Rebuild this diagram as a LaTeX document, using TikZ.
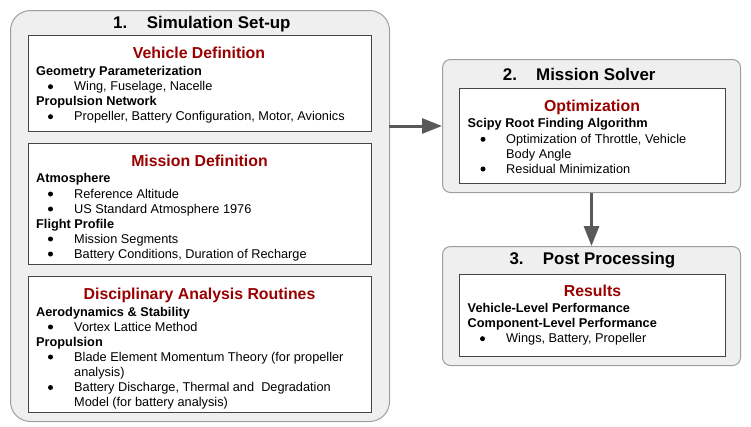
\documentclass[tikz,border=0pt]{standalone}
\usepackage{fontspec}
\setmainfont{Liberation Sans}
\usetikzlibrary{arrows.meta}
\definecolor{outerfill}{HTML}{EFEFEF}
\definecolor{outerdraw}{HTML}{9E9E9E}
\definecolor{innerdraw}{HTML}{444444}
\definecolor{headred}{HTML}{990000}
\definecolor{arrgray}{HTML}{595959}
\tikzset{
  outerbox/.style={draw=outerdraw, fill=outerfill, line width=1pt, anchor=north west, inner sep=0pt},
  innerbox/.style={draw=innerdraw, fill=white, line width=1pt, anchor=north west, inner sep=0pt},
  txt/.style={anchor=base west, inner sep=0pt, font=\fontsize{12.75}{15}\selectfont},
  lbl/.style={txt, font=\fontsize{12.75}{15}\selectfont\bfseries},
  headtxt/.style={anchor=base, inner sep=0pt, text=headred, font=\fontsize{15.85}{18}\selectfont\bfseries},
  ttl/.style={anchor=base west, inner sep=0pt, font=\fontsize{16.9}{19}\selectfont\bfseries},
  dot/.style={circle, fill=black, inner sep=0pt, minimum size=5pt},
  arr/.style={draw=arrgray, line width=3pt, -{Triangle[length=20pt,width=15pt]}, arrgray}
}
\begin{document}
\begin{tikzpicture}[x=1pt,y=-1pt]
\useasboundingbox (0,0) rectangle (751,426);
% outer boxes
\node[outerbox, rounded corners=20pt, minimum width=379pt, minimum height=411pt] (b1) at (10,10) {};
\node[outerbox, rounded corners=8pt, minimum width=298pt, minimum height=133pt] (b2) at (442,59) {};
\node[outerbox, rounded corners=8pt, minimum width=298pt, minimum height=119pt] (b3) at (442,246) {};
% inner boxes
\node[innerbox, minimum width=343pt, minimum height=96pt] (v) at (28,35) {};
\node[innerbox, minimum width=343pt, minimum height=121pt] (m) at (28,143) {};
\node[innerbox, minimum width=343pt, minimum height=136pt] (d) at (28,276) {};
\node[innerbox, minimum width=266pt, minimum height=95pt] (o) at (459,88) {};
\node[innerbox, minimum width=266pt, minimum height=82pt] (r) at (459,274) {};
% titles
\node[ttl] (t1n) at (113,28.3) {1.};
\node[ttl] (t1) at (146.7,28.3) {Simulation Set-up};
\node[ttl] (t2n) at (502.7,80) {2.};
\node[ttl] (t2) at (536,80) {Mission Solver};
\node[ttl] (t3n) at (509.3,264) {3.};
\node[ttl] (t3) at (542.7,264) {Post Processing};
% headings
\node[headtxt] (hv) at (199,58.3) {Vehicle Definition};
\node[headtxt] (hm) at (199.5,166) {Mission Definition};
\node[headtxt] (hd) at (199.5,299.3) {Disciplinary Analysis Routines};
\node[headtxt] (ho) at (592,111.7) {Optimization};
\node[headtxt] (hr) at (592.5,296.7) {Results};
% vehicle definition
\node[lbl] (v1) at (36,75.3) {Geometry Parameterization};
\node[dot] (vd1) at (50.5,86.7) {};
\node[txt] (v2) at (74,90.7) {Wing, Fuselage, Nacelle};
\node[lbl] (v3) at (36,105.3) {Propulsion Network};
\node[dot] (vd2) at (50.5,116.7) {};
\node[txt] (v4) at (74,120.7) {Propeller, Battery Configuration, Motor, Avionics};
% mission definition
\node[lbl] (m1) at (36,182.3) {Atmosphere};
\node[dot] (md1) at (50.5,194) {};
\node[txt] (m2) at (74,198) {Reference Altitude};
\node[dot] (md2) at (50.5,209) {};
\node[txt] (m3) at (74,213) {US Standard Atmosphere 1976};
\node[lbl] (m4) at (36,228) {Flight Profile};
\node[dot] (md3) at (50.5,239) {};
\node[txt] (m5) at (74,243) {Mission Segments};
\node[dot] (md4) at (50.5,254) {};
\node[txt] (m6) at (74,258) {Battery Conditions, Duration of Recharge};
% disciplinary analysis
\node[lbl] (d1) at (36,316) {Aerodynamics \& Stability};
\node[dot] (dd1) at (50.5,327) {};
\node[txt] (d2) at (74,331) {Vortex Lattice Method};
\node[lbl] (d3) at (36,346) {Propulsion};
\node[dot] (dd2) at (50.5,357) {};
\node[txt] (d4) at (74,361) {Blade Element Momentum Theory (for propeller};
\node[txt] (d5) at (74,376) {analysis)};
\node[dot] (dd3) at (50.5,387.5) {};
\node[txt] (d6) at (74,391.5) {Battery Discharge, Thermal and\ \ Degradation};
\node[txt] (d7) at (74,406.5) {Model (for battery analysis)};
% optimization
\node[lbl] (o1) at (467.5,127.3) {Scipy Root Finding Algorithm};
\node[dot] (od1) at (483,139.3) {};
\node[txt] (o2) at (506,143.3) {Optimization of Throttle, Vehicle};
\node[txt] (o3) at (506,158.3) {Body Angle};
\node[dot] (od2) at (483,169) {};
\node[txt] (o4) at (506,173) {Residual Minimization};
% results
\node[lbl] (r1) at (467.5,312.3) {Vehicle-Level Performance};
\node[lbl] (r2) at (467.5,327.7) {Component-Level Performance};
\node[dot] (rd1) at (482.5,338.7) {};
\node[txt] (r3) at (506,342.7) {Wings, Battery, Propeller};
% arrows
\coordinate (a1) at (389,126);
\draw[arr] (a1) -- (a1 -| b2.west);
\draw[arr] (b2.south) -- (b3.north);
\end{tikzpicture}
\end{document}
